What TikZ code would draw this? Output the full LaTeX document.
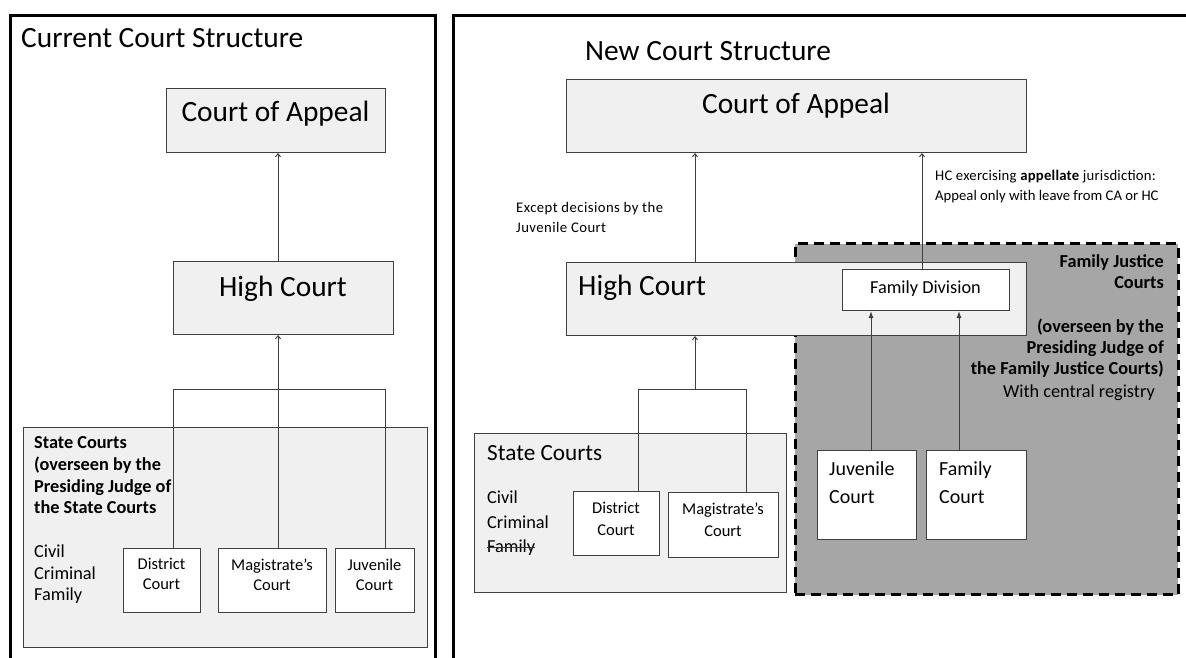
\documentclass[tikz,border=0pt]{standalone}
\usepackage{fontspec}
\setmainfont{Carlito}
\usetikzlibrary{arrows.meta}
\definecolor{lightbox}{HTML}{F0F0F0}
\definecolor{darkfill}{HTML}{A6A6A6}
\definecolor{edge}{HTML}{404040}
\newcommand\fsBig{\fontsize{29.4}{32}\selectfont}
\newcommand\fsSC{\fontsize{23.2}{26}\selectfont}
\newcommand\fsJv{\fontsize{20}{22}\selectfont}
\newcommand\fsMed{\fontsize{18.3}{20}\selectfont}
\newcommand\fsSm{\fontsize{16.5}{19}\selectfont}
\newcommand\fsNote{\fontsize{14.7}{16}\selectfont}
\tikzset{
  panel/.style={draw=black, line width=3pt, anchor=north west, inner sep=0pt},
  box/.style={draw=edge, line width=1pt, fill=lightbox, anchor=north west, inner sep=0pt},
  wbox/.style={draw=edge, line width=1pt, fill=white, anchor=north west, inner sep=0pt},
  fjbox/.style={draw=black, line width=3pt, dash pattern=on 10pt off 6pt, fill=darkfill, anchor=north west, inner sep=0pt},
  txt/.style={anchor=base, inner sep=0pt},
  ltxt/.style={anchor=base west, inner sep=0pt},
  rtxt/.style={anchor=base east, inner sep=0pt},
  conn/.style={draw=edge, line width=1pt},
  arr/.style={conn, -{Straight Barb[length=3pt,width=5pt]}},
  sarr/.style={conn, -{Latex[length=7pt,width=5pt]}},
  strike/.style={draw=black!80, line width=0.9pt},
}
\begin{document}
\begin{tikzpicture}[x=1pt,y=-1pt]
\useasboundingbox (0,0) rectangle (1186,657);
\begin{scope}
\clip (0,0) rectangle (1186,657);
% ---------- panels ----------
\node (pL) [panel, minimum width=425pt, minimum height=700pt] at (8.5,13.5) {};
\node (pR) [panel, minimum width=800pt, minimum height=700pt] at (452,13.5) {};

% ---------- left: current structure ----------
\node (tL) [ltxt, font=\fsBig] at (21,47) {Current Court Structure};
\node (caL) [box, minimum width=219pt, minimum height=64pt] at (166,88) {};
\node (caLt) [txt, font=\fsBig] at (275.5,121) {Court of Appeal};
\node (hcL) [box, minimum width=220pt, minimum height=73pt] at (173,261) {};
\node (hcLt) [txt, font=\fsBig] at (283,296) {High Court};
\node (scL) [box, minimum width=404pt, minimum height=220pt] at (23,427) {};
\node (scLt) [ltxt, font=\fsMed\bfseries] at (34,448) {State Courts};
\node (scLt2) [ltxt, font=\fsMed\bfseries] at (34,470) {(overseen by the};
\node (scLt3) [ltxt, font=\fsMed\bfseries] at (34,492) {Presiding Judge of};
\node (scLt4) [ltxt, font=\fsMed\bfseries] at (34,513) {the State Courts};
\node (cvL) [ltxt, font=\fsMed] at (34,557) {Civil};
\node (crL) [ltxt, font=\fsMed] at (34,579) {Criminal};
\node (fmL) [ltxt, font=\fsMed] at (34,600) {Family};
\node (dcL) [wbox, minimum width=77pt, minimum height=64pt] at (123,548) {};
\node (dcLt) [txt, font=\fsSm] at (161.5,569) {District};
\node (dcLt2) [txt, font=\fsSm] at (161.5,589) {Court};
\node (mcL) [wbox, minimum width=108pt, minimum height=64pt] at (218,548) {};
\node (mcLt) [txt, font=\fsSm] at (272,570) {Magistrate’s};
\node (mcLt2) [txt, font=\fsSm] at (272,590) {Court};
\node (jcL) [wbox, minimum width=79pt, minimum height=64pt] at (335,548) {};
\node (jcLt) [txt, font=\fsSm] at (374.5,570) {Juvenile};
\node (jcLt2) [txt, font=\fsSm] at (374.5,590) {Court};

\coordinate (bLa) at (173.5,389);
\coordinate (bLm) at (278,389);
\coordinate (bLb) at (385,389);
\draw[conn] (dcL.north -| bLa) -- (bLa) -- (bLb) -- (jcL.north -| bLb);
\draw[conn] (mcL.north -| bLm) -- (bLm);
\draw[arr] (bLm) -- (hcL.south -| bLm);
\draw[arr] (hcL.north -| bLm) -- (caL.south -| bLm);

% ---------- right: new structure ----------
\node (tR) [ltxt, font=\fsBig] at (585,60) {New Court Structure};
\node (caR) [box, minimum width=460pt, minimum height=73pt] at (566,79) {};
\node (caRt) [txt, font=\fsBig] at (796,113) {Court of Appeal};

\node (fj) [fjbox, minimum width=383pt, minimum height=351pt] at (793.5,242) {};
\node (hcR) [box, minimum width=460pt, minimum height=73pt] at (566,262) {};
\node (hcRt) [ltxt, font=\fsBig] at (578,295) {High Court};
\node (fd) [wbox, minimum width=167pt, minimum height=41pt] at (842,269) {};
\node (fdt) [txt, font=\fsMed] at (925.5,293) {Family Division};

\node (fjt1) [rtxt, font=\fsMed\bfseries] at (1164,267) {Family Justice};
\node (fjt2) [rtxt, font=\fsMed\bfseries] at (1164,288) {Courts};
\node (fjt3) [rtxt, font=\fsMed\bfseries] at (1164,332) {(overseen by the};
\node (fjt4) [rtxt, font=\fsMed\bfseries] at (1164,353) {Presiding Judge of};
\node (fjt5) [rtxt, font=\fsMed\bfseries] at (1164,374) {the Family Justice Courts)};
\node (fjt6) [rtxt, font=\fsMed] at (1155,397) {With central registry};

\node (nt1) [ltxt, font=\fsNote\addfontfeature{LetterSpace=3}] at (516,212) {Except decisions by the};
\node (nt2) [ltxt, font=\fsNote\addfontfeature{LetterSpace=3}] at (516,232) {Juvenile Court};
\node (nt3) [ltxt, font=\fsNote\addfontfeature{LetterSpace=1.5}] at (935,180) {HC exercising \textbf{appellate} jurisdiction:};
\node (nt4) [ltxt, font=\fsNote] at (935,200) {Appeal only with leave from CA or HC};

\node (juv) [wbox, minimum width=99pt, minimum height=89pt] at (817,450) {};
\node (juvt) [ltxt, font=\fsJv] at (829,475) {Juvenile};
\node (juvt2) [ltxt, font=\fsJv] at (829,503) {Court};
\node (fam) [wbox, minimum width=100pt, minimum height=89pt] at (926,450) {};
\node (famt) [ltxt, font=\fsJv] at (939,475) {Family};
\node (famt2) [ltxt, font=\fsJv] at (939,503) {Court};

\node (scR) [box, minimum width=312pt, minimum height=159pt] at (474,433) {};
\node (scRt) [ltxt, font=\fsSC] at (487,460) {State Courts};
\node (cvR) [ltxt, font=\fsMed] at (487,503) {Civil};
\node (crR) [ltxt, font=\fsMed] at (487,528) {Criminal};
\node (fmR) [ltxt, font=\fsMed] at (487,552) {Family};
\draw[strike] ([yshift=5pt]fmR.base west) -- ([yshift=5pt]fmR.base east);
\node (dcR) [wbox, minimum width=86pt, minimum height=64pt] at (573,491) {};
\node (dcRt) [txt, font=\fsSm] at (616,513) {District};
\node (dcRt2) [txt, font=\fsSm] at (616,535) {Court};
\node (mcR) [wbox, minimum width=110pt, minimum height=65pt] at (668,492) {};
\node (mcRt) [txt, font=\fsSm] at (723,514) {Magistrate’s};
\node (mcRt2) [txt, font=\fsSm] at (723,536) {Court};

\coordinate (bRa) at (638,389);
\coordinate (bRm) at (695,389);
\coordinate (bRb) at (746,389);
\coordinate (xFD) at (922,200);
\coordinate (xJv) at (871,400);
\coordinate (xFm) at (959,400);
\draw[conn] (dcR.north -| bRa) -- (bRa) -- (bRb) -- (mcR.north -| bRb);
\draw[arr] (bRm) -- (hcR.south -| bRm);
\draw[arr] (hcR.north -| bRm) -- (caR.south -| bRm);
\draw[arr] (fd.north -| xFD) -- (caR.south -| xFD);
\draw[sarr] (juv.north -| xJv) -- (fd.south -| xJv);
\draw[sarr] (fam.north -| xFm) -- (fd.south -| xFm);
\end{scope}
\end{tikzpicture}
\end{document}
